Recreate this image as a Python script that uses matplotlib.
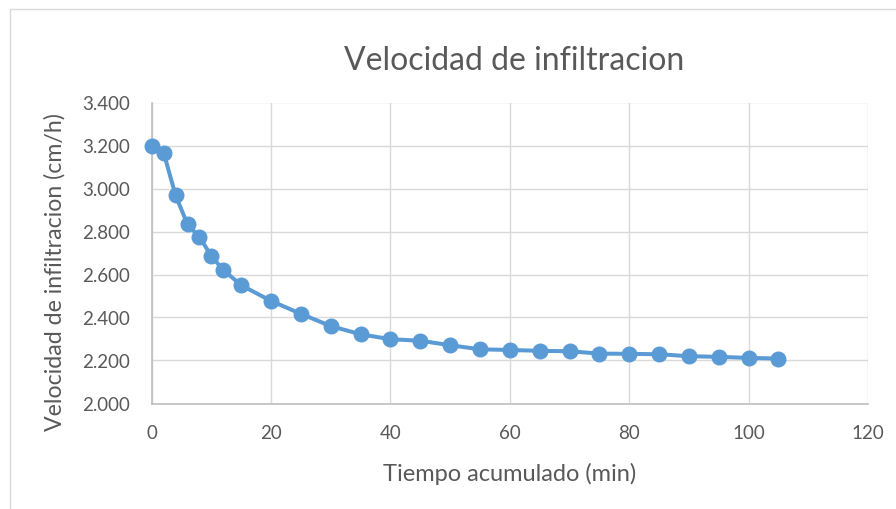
import matplotlib
matplotlib.use("Agg")
import matplotlib.pyplot as plt
from matplotlib.ticker import FuncFormatter, MultipleLocator
from matplotlib.patches import Rectangle

# Accumulated time (min) and infiltration rate (cm/h)
tiempo = [0, 2, 4, 6, 8, 10, 12, 15, 20, 25, 30, 35, 40, 45, 50, 55,
          60, 65, 70, 75, 80, 85, 90, 95, 100, 105]
velocidad = [3.200, 3.167, 2.968, 2.833, 2.775, 2.685, 2.621, 2.550,
             2.477, 2.417, 2.360, 2.322, 2.299, 2.292, 2.271, 2.252,
             2.249, 2.245, 2.243, 2.232, 2.231, 2.229, 2.220, 2.217,
             2.212, 2.209]

titulo = "Velocidad de infiltracion"
etiqueta_x = "Tiempo acumulado (min)"
etiqueta_y = "Velocidad de infiltracion (cm/h)"

plt.rcParams["font.family"] = ["Lato", "DejaVu Sans"]
texto = "#595959"
azul = "#5b9bd5"
W, H = 896, 510

fig = plt.figure(figsize=(W / 100, H / 100), dpi=100)
fig.patch.set_facecolor("white")

# Chart-area frame
fig.patches.append(Rectangle((10 / W, -0.05), 1.0, 1 - 10 / H + 0.05,
                             transform=fig.transFigure, fill=False,
                             edgecolor="#d9d9d9", linewidth=1.0))

ax = fig.add_axes([151.7 / W, 1 - 404.5 / H, (868 - 151.7) / W,
                   (404.5 - 103.5) / H])

ax.plot(tiempo, velocidad, color=azul, linewidth=2.9, marker="o",
        markersize=10.5, markerfacecolor=azul, markeredgecolor=azul,
        zorder=3, clip_on=False)

ax.set_xlim(0, 120)
ax.set_ylim(2.0, 3.4)
ax.xaxis.set_major_locator(MultipleLocator(20))
ax.yaxis.set_major_locator(MultipleLocator(0.2))
ax.yaxis.set_major_formatter(FuncFormatter(lambda v, p: f"{v:.3f}"))

ax.grid(True, color="#d9d9d9", linewidth=1.0)
ax.set_axisbelow(True)
for s in ("top", "right"):
    ax.spines[s].set_visible(False)
for s in ("left", "bottom"):
    ax.spines[s].set_color("#bfbfbf")
    ax.spines[s].set_linewidth(1.2)

ax.tick_params(length=0, labelsize=13.5, colors=texto)
ax.tick_params(axis="y", pad=15.5)
ax.tick_params(axis="x", pad=15)

fig.text(510 / W, 1 - 481 / H, etiqueta_x, fontsize=17, color=texto,
         ha="center", va="baseline")
fig.text(62 / W, 1 - 272 / H, etiqueta_y, fontsize=16.7, color=texto,
         ha="center", va="baseline", rotation=90, rotation_mode="anchor")
fig.text(514 / W, 1 - 70 / H, titulo, fontsize=23, color=texto,
         ha="center", va="baseline")

fig.savefig("out.png", dpi=100, facecolor="white")
